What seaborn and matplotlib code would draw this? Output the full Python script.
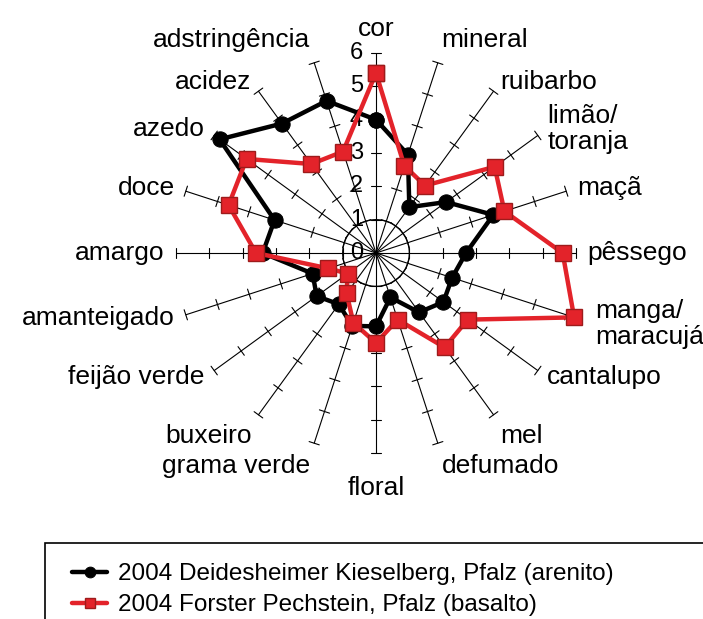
import numpy as np
import pandas as pd
import matplotlib
matplotlib.use("Agg")
import matplotlib.pyplot as plt
import seaborn as sns
from matplotlib.patches import Rectangle

sns.set_style("white")
plt.rcParams['font.family'] = ['Liberation Sans', 'DejaVu Sans']
plt.rcParams['text.color'] = 'black'

categories = ['cor', 'mineral', 'ruibarbo', 'limão/\ntoranja', 'maçã', 'pêssego',
              'manga/\nmaracujá', 'cantalupo', 'mel', 'defumado', 'floral',
              'grama verde', 'buxeiro', 'feijão verde', 'amanteigado', 'amargo',
              'doce', 'azedo', 'acidez', 'adstringência']
deidesheimer = [4.0, 3.1, 1.7, 2.6, 3.7, 2.7, 2.4, 2.5, 2.2, 1.4,
                2.2, 2.3, 1.9, 2.2, 2.0, 3.4, 3.2, 5.8, 4.8, 4.8]
forster = [5.4, 2.75, 2.5, 4.4, 4.05, 5.6, 6.25, 3.4, 3.5, 2.1,
           2.7, 2.2, 1.5, 1.05, 1.5, 3.6, 4.65, 4.8, 3.3, 3.2]
radial_ticks = [0, 1, 2, 3, 4, 5, 6]
series_names = ['2004 Deidesheimer Kieselberg, Pfalz (arenito)',
                '2004 Forster Pechstein, Pfalz (basalto)']

W, H = 703, 619
fig = plt.figure(figsize=(W / 100, H / 100), dpi=100)
cx, cy, R = 376, 253, 200
ax = fig.add_axes([(cx - R) / W, (H - cy - R) / H, 2 * R / W, 2 * R / H],
                  projection='polar')
ax.set_theta_zero_location('N')
ax.set_theta_direction(-1)
rmax = radial_ticks[-1]
ax.set_ylim(0, rmax)
ax.grid(False)
ax.set_xticks([])
ax.set_yticks([])
ax.spines['polar'].set_visible(False)
ax.patch.set_visible(False)

n = len(categories)
theta = np.arange(n) * 2 * np.pi / n

# spokes with tick marks
h = 0.16
for t in theta:
    ax.plot([t, t], [0, rmax], color='black', lw=0.8, clip_on=False, zorder=1)
    for r in radial_ticks[1:]:
        d = np.arctan(h / r)
        rr = np.hypot(r, h)
        ax.plot([t - d, t + d], [rr, rr], color='black', lw=0.8, clip_on=False, zorder=1)
# inner circle
circ_t = np.linspace(0, 2 * np.pi, 300)
ax.plot(circ_t, np.full_like(circ_t, radial_ticks[1]), color='black', lw=0.9, zorder=1)

# radial tick labels
for v in radial_ticks:
    ax.annotate(str(v), xy=(0, v), xytext=(-13, 0), textcoords='offset pixels',
                ha='right', va='center', fontsize=17, zorder=2)

# category labels
label_r = {6: 6.9, 10: 6.7}
for i, (t, lab) in enumerate(zip(theta, categories)):
    s, c = np.sin(t), np.cos(t)
    ha = 'left' if s > 0.1 else ('right' if s < -0.1 else 'center')
    va = 'bottom' if c > 0.85 else ('top' if c < -0.85 else 'center')
    if i in (8, 12):
        va = 'top'
    ax.text(t, label_r.get(i, 6.35), lab, ha=ha, va=va, fontsize=19,
            linespacing=1.1, clip_on=False)

def closed(vals):
    return pd.DataFrame({'theta': np.append(theta, 2 * np.pi),
                         'value': np.append(vals, vals[0])})

sns.lineplot(data=closed(deidesheimer), x='theta', y='value', ax=ax, sort=False,
             estimator=None, color='black', lw=3.2, marker='o', markersize=11,
             markeredgecolor='black', label=series_names[0], clip_on=False, zorder=3)
sns.lineplot(data=closed(forster), x='theta', y='value', ax=ax, sort=False,
             estimator=None, color='#E3232A', lw=3.2, marker='s', markersize=11,
             markeredgecolor='#9E1B1B', markeredgewidth=1.0,
             label=series_names[1], clip_on=False, zorder=4)
ax.set_xlabel('')
ax.set_ylabel('')
handles, labels = ax.get_legend_handles_labels()
ax.get_legend().remove()
ax.set_ylim(0, rmax)

fig.legend(handles, labels, loc='upper left',
           bbox_to_anchor=(72 / W, (H - 563) / H), frameon=False,
           fontsize=17.5, handlelength=1.45, handletextpad=0.45,
           labelspacing=0.38, borderpad=0, borderaxespad=0, markerscale=0.7)
fig.patches.append(Rectangle((45 / W, -0.2), 1.2, 0.2 + (H - 543) / H,
                             transform=fig.transFigure, fill=False,
                             edgecolor='black', lw=1.2, clip_on=False))

fig.savefig('out.png', dpi=100, facecolor='white')
